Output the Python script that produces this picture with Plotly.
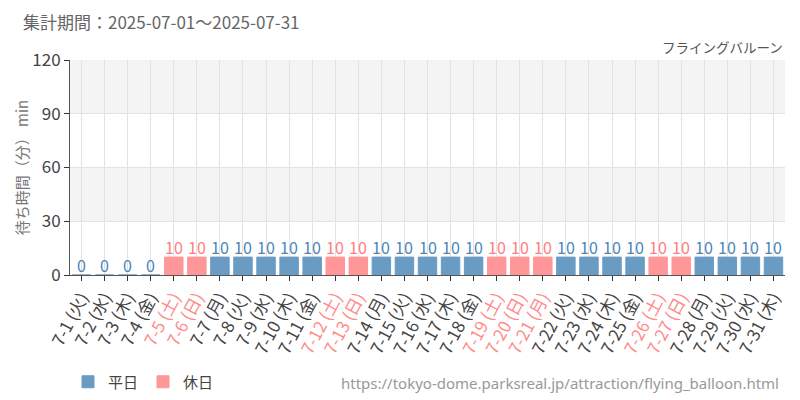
import plotly.graph_objects as go

days = list(range(1, 32))
weekdays = ["火", "水", "木", "金", "土", "日", "月"]
dows = [weekdays[(d - 1) % 7] for d in days]
holidays = [5, 6, 12, 13, 19, 20, 21, 26, 27]
values = [0, 0, 0, 0] + [10] * 27

categories = [f"7-{d} ({w})" for d, w in zip(days, dows)]
ticktext = [
    f"<span style='color:#ff8a8a'>{c}</span>" if d in holidays else c
    for d, c in zip(days, categories)
]

wd_x = [c for d, c in zip(days, categories) if d not in holidays]
wd_y = [v for d, v in zip(days, values) if d not in holidays]
hd_x = [c for d, c in zip(days, categories) if d in holidays]
hd_y = [v for d, v in zip(days, values) if d in holidays]

BLUE = "#6a9bc3"
PINK = "#ff9799"
FONT = "Noto Sans CJK JP"

fig = go.Figure()
fig.add_trace(go.Bar(
    x=wd_x, y=wd_y, name="平日", marker_color=BLUE,
    marker_line_color=BLUE, marker_line_width=1, width=0.8,
))
fig.add_trace(go.Bar(
    x=hd_x, y=hd_y, name="休日", marker_color=PINK,
    marker_line_color=PINK, marker_line_width=1, width=0.8,
))

annotations = []
for d, c, v in zip(days, categories, values):
    col = "#ff7d7f" if d in holidays else "#4a86bb"
    annotations.append(dict(x=c, y=v, xref="x", yref="y", text=str(v), showarrow=False,
                            yanchor="bottom", yshift=-4,
                            font=dict(size=16, color=col, family=FONT)))

shapes = []
for y0, y1 in [(30, 60), (90, 120)]:
    shapes.append(dict(type="rect", xref="paper", yref="y", x0=0, x1=1, y0=y0, y1=y1,
                       fillcolor="#f4f4f4", line_width=0, layer="below"))

annotations += [
    dict(text="集計期間：2025-07-01～2025-07-31", xref="paper", yref="paper",
         x=-0.068, y=1.177, xanchor="left", yanchor="middle", showarrow=False,
         font=dict(size=17, color="#666")),
    dict(text="フライングバルーン", xref="paper", yref="paper",
         x=1.0, y=1.06, xanchor="right", yanchor="middle", showarrow=False,
         font=dict(size=13.5, color="#555")),
    dict(text="https://tokyo-dome.parksreal.jp/attraction/flying_balloon.html",
         xref="paper", yref="paper", x=0.995, y=-0.5, xanchor="right",
         yanchor="middle", showarrow=False,
         font=dict(size=15, color="#999", family="Noto Sans")),
]

fig.update_layout(
    width=800, height=400,
    margin=dict(l=70, r=15, t=60, b=125, autoexpand=False),
    plot_bgcolor="white", paper_bgcolor="white",
    barmode="overlay", bargap=0.2,
    font=dict(family=FONT, color="#555"),
    shapes=shapes,
    showlegend=True,
    legend=dict(orientation="h", x=0.085, xref="container", y=0.045, yref="container",
                xanchor="left", yanchor="middle",
                font=dict(size=15, color="#444"), itemwidth=30,
                traceorder="normal"),
    annotations=annotations,
)
fig.update_xaxes(
    type="category", categoryorder="array", categoryarray=categories,
    tickvals=categories, ticktext=ticktext, tickangle=-62,
    tickfont=dict(size=17, color="#444"),
    showgrid=True, gridcolor="#e2e2e2", gridwidth=1,
    ticks="outside", ticklen=5, tickcolor="#333",
    showline=True, linecolor="#555", linewidth=1,
)
fig.update_yaxes(
    range=[0, 120], tickvals=[0, 30, 60, 90, 120],
    tickfont=dict(size=17, color="#444"),
    showgrid=True, gridcolor="#e2e2e2",
    ticks="outside", ticklen=5, tickcolor="#333",
    showline=True, linecolor="#555", linewidth=1,
    title=dict(text="待ち時間（分） min", font=dict(size=15, color="#777"), standoff=0),
    zeroline=False,
)

fig.write_html("out.html", post_script="document.body.style.margin='0';",
               config={"displayModeBar": False})
